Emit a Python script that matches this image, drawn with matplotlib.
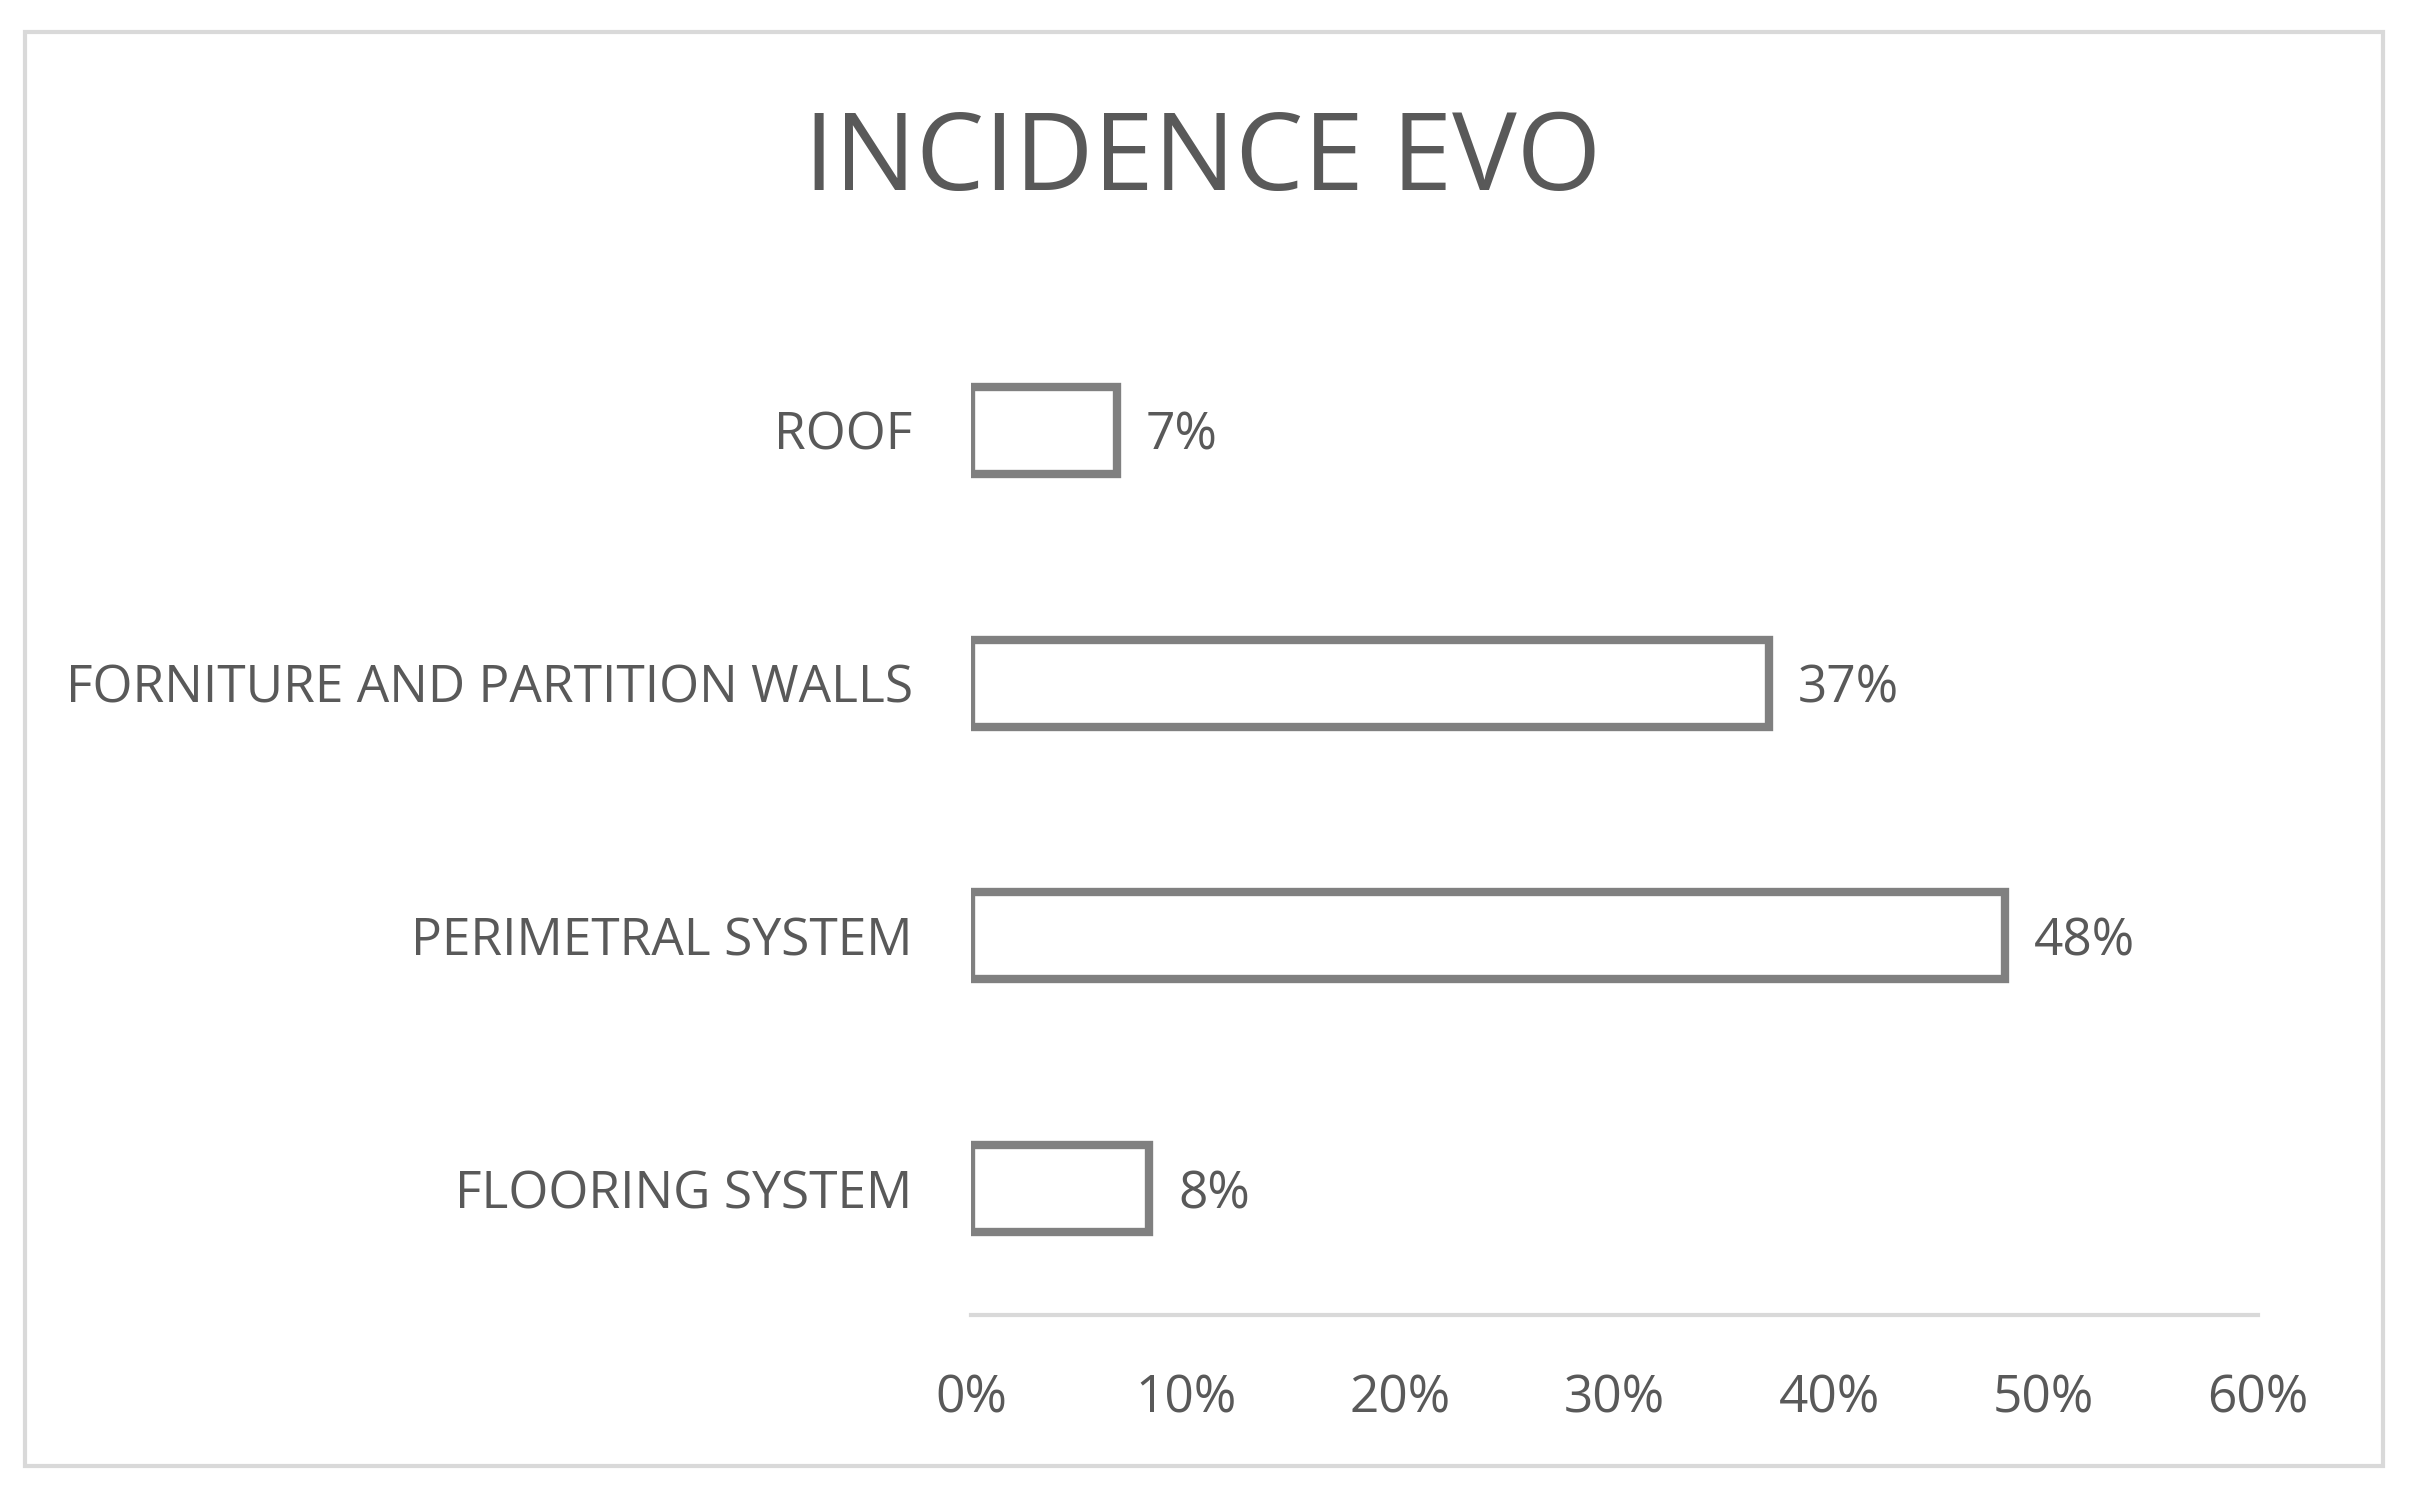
"""Horizontal bar chart: incidence by building system (EVO)."""
import matplotlib
matplotlib.use("Agg")
import matplotlib.pyplot as plt
from matplotlib.patches import Rectangle
from matplotlib.ticker import PercentFormatter

categories = ["FLOORING SYSTEM", "PERIMETRAL SYSTEM",
              "FORNITURE AND PARTITION WALLS", "ROOF"]
values = [0.083, 0.482, 0.372, 0.068]
labels = ["8%", "48%", "37%", "7%"]
xticks = [0, 0.1, 0.2, 0.3, 0.4, 0.5, 0.6]

TXT = "#595959"
EDGE = "#808080"
GRID = "#d9d9d9"
plt.rcParams["font.family"] = ["Open Sans", "DejaVu Sans"]

W, H = 2412, 1493
fig = plt.figure(figsize=(W / 100, H / 100), dpi=100)
fig.patches.append(Rectangle((25 / W, 1 - 1466 / H), 2358 / W, 1434 / H,
                             transform=fig.transFigure, fill=False,
                             edgecolor=GRID, lw=3))

ax = fig.add_axes([971 / W, 1 - 1315 / H, 1287 / W, 1011 / H])
y = range(len(categories))
ax.barh(y, values, height=0.345, color="white", edgecolor=EDGE, lw=6)
for yi, v, lab in zip(y, values, labels):
    ax.text(v + 0.0135, yi, lab, va="center_baseline", ha="left", color=TXT,
            fontsize=37)

ax.set_xlim(0, 0.6)
ax.set_ylim(-0.5, len(categories) - 0.5)
ax.set_xticks(xticks)
ax.xaxis.set_major_formatter(PercentFormatter(1.0, decimals=0))
ax.set_yticks(list(y))
ax.set_yticklabels(categories)
ax.tick_params(axis="both", length=0, labelsize=37, labelcolor=TXT)
ax.tick_params(axis="x", pad=42)
ax.tick_params(axis="y", pad=42)
for lbl in ax.get_yticklabels():
    lbl.set_verticalalignment("center_baseline")
for s in ["top", "right", "left"]:
    ax.spines[s].set_visible(False)
ax.spines["bottom"].set_color(GRID)
ax.spines["bottom"].set_linewidth(3)

fig.text(0.5 * (527 + 1037) / 1568, 1 - 162 / H, "INCIDENCE EVO",
         ha="center", va="center", fontsize=78, color=TXT)

fig.savefig("out.png", dpi=100)
